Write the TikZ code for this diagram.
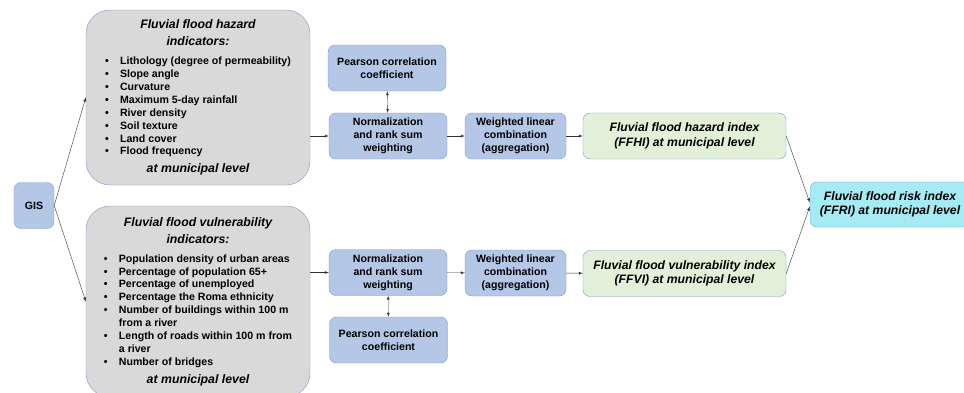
\documentclass[tikz,border=0pt]{standalone}
\usepackage{fontspec}
\setmainfont{Liberation Sans}
\usetikzlibrary{positioning}

\definecolor{edgeblue}{RGB}{122,152,200}
\definecolor{boxblue}{RGB}{180,199,231}
\definecolor{boxgrey}{RGB}{217,217,217}
\definecolor{boxgreen}{RGB}{226,240,217}
\definecolor{boxcyan}{RGB}{166,234,243}

\newcommand{\titlefont}{\fontsize{12.3}{17}\bfseries\itshape}
\newcommand{\listfont}{\fontsize{10.6}{12.9}\bfseries\upshape}

\tikzset{
  >=latex,
  stepbox/.style={draw=edgeblue, fill=boxblue, rounded corners=7pt, align=center,
    minimum width=118pt, minimum height=46pt, inner sep=1pt,
    font=\fontsize{10.6}{13}\bfseries},
  indbox/.style={draw=edgeblue, fill=boxgrey, rounded corners=24pt, align=center,
    minimum width=224pt, inner sep=0pt, font=\titlefont},
  indexbox/.style={draw=edgeblue, fill=boxgreen, rounded corners=7pt, align=center,
    minimum width=203pt, minimum height=46pt, inner sep=1pt,
    font=\fontsize{12.2}{14.5}\bfseries\itshape},
  link/.style={->, thin, black!80}
}

\begin{document}
\begin{tikzpicture}[x=1pt,y=-1pt]
  \useasboundingbox (0,0) rectangle (964,392);

  % input
  \node[stepbox, minimum width=40pt] (gis) at (34,205.5) {GIS};

  % indicator boxes
  \node[indbox, minimum height=175pt] (haz) at (198,97.5) {%
    Fluvial flood hazard\\ indicators:\\[2pt]
    \listfont\begin{tabular}[t]{@{}p{15pt}@{}l@{}}
      \textbullet & Lithology (degree of permeability)\\
      \textbullet & Slope angle\\
      \textbullet & Curvature\\
      \textbullet & Maximum 5-day rainfall\\
      \textbullet & River density\\
      \textbullet & Soil texture\\
      \textbullet & Land cover\\
      \textbullet & Flood frequency
    \end{tabular}\\[4pt]
    at municipal level};
  \node[indbox, minimum height=191pt] (vul) at (198,301.5) {%
    Fluvial flood vulnerability\\ indicators:\\[2pt]
    \listfont\begin{tabular}[t]{@{}p{15pt}@{}l@{}}
      \textbullet & Population density of urban areas\\
      \textbullet & Percentage of population 65+\\
      \textbullet & Percentage of unemployed\\
      \textbullet & Percentage the Roma ethnicity\\
      \textbullet & Number of buildings within 100 m\\
                  & from a river\\
      \textbullet & Length of roads within 100 m from\\
                  & a river\\
      \textbullet & Number of bridges
    \end{tabular}\\[4pt]
    at municipal level};

  % hazard branch
  \node[stepbox] (pearA) at (387,68) {Pearson correlation\\coefficient};
  \node[stepbox] (normA) at (388,136) {Normalization\\and rank sum\\weighting};
  \node[stepbox, minimum width=101pt] (wlcA) at (515.5,136) {Weighted linear\\combination\\(aggregation)};
  \node[indexbox] (ffhi) at (684.5,136) {Fluvial flood hazard index\\(FFHI) at municipal level};

  % vulnerability branch
  \node[stepbox] (normB) at (388,272.5) {Normalization\\and rank sum\\weighting};
  \node[stepbox] (pearB) at (388.5,340) {Pearson correlation\\coefficient};
  \node[stepbox, minimum width=101pt] (wlcB) at (515.5,273) {Weighted linear\\combination\\(aggregation)};
  \node[indexbox] (ffvi) at (684.5,273.5) {Fluvial flood vulnerability index\\(FFVI) at municipal level};

  % result
  \node[indexbox, fill=boxcyan, minimum width=160pt, minimum height=45pt] (ffri) at (890,204.5)
    {Fluvial flood risk index\\(FFRI) at municipal level};

  % connectors
  \draw[link] (gis.east) -- (haz.west);
  \draw[link] (gis.east) -- (vul.west);
  \draw[link] (normA.west -| haz.east) -- (normA.west);
  \draw[link] (normB.west -| vul.east) -- (normB.west);
  \draw[link, <->] (pearA) -- (normA);
  \draw[link, <->] (normB) -- (pearB);
  \draw[link] (normA) -- (wlcA);
  \draw[link] (normB) -- (wlcB);
  \draw[link] (wlcA) -- (ffhi);
  \draw[link] (wlcB) -- (ffvi);
  \draw[link] (ffhi.east) -- ([yshift=2pt]ffri.west);
  \draw[link] (ffvi.east) -- ([yshift=-2pt]ffri.west);
\end{tikzpicture}
\end{document}
